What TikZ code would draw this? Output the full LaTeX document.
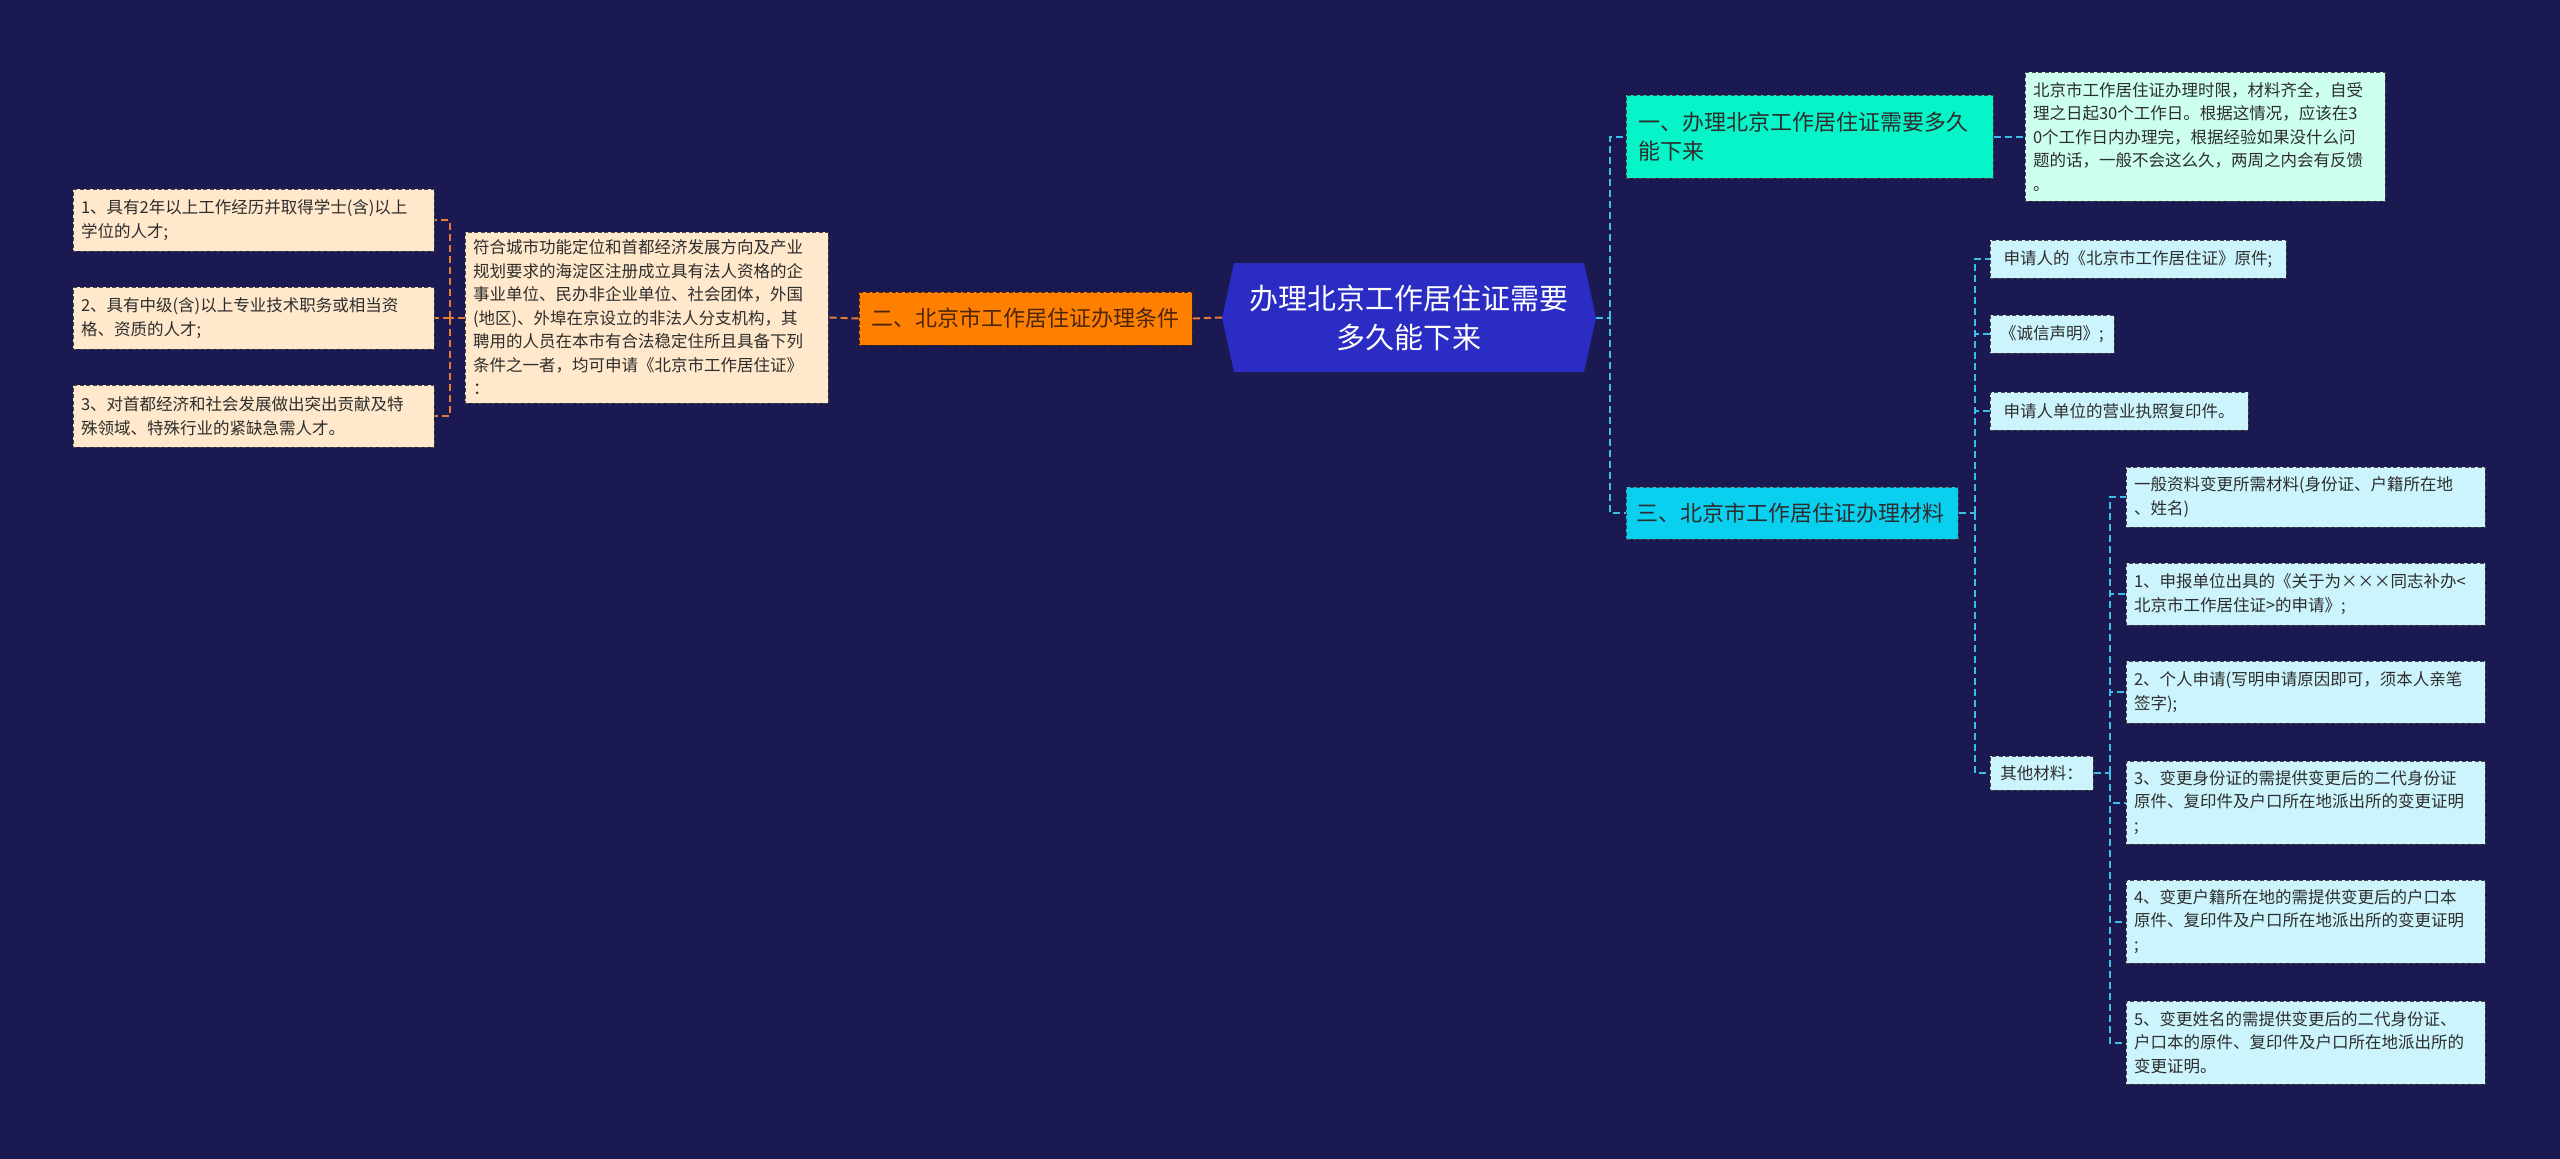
\documentclass[tikz,border=0pt]{standalone}
\usepackage{fontspec}
\setmainfont{Noto Sans CJK SC}
\definecolor{bgc}{RGB}{26,25,82}
\definecolor{centc}{RGB}{42,44,196}
\definecolor{orangec}{RGB}{255,128,0}
\definecolor{orangetxt}{RGB}{75,38,10}
\definecolor{peachc}{RGB}{255,232,204}
\definecolor{greenc}{RGB}{5,245,200}
\definecolor{mintc}{RGB}{204,255,240}
\definecolor{cyanc}{RGB}{10,208,240}
\definecolor{lcyanc}{RGB}{204,244,252}
\definecolor{lconnc}{RGB}{230,125,50}
\definecolor{rconnc}{RGB}{60,190,230}
\definecolor{txtc}{RGB}{45,45,45}
\definecolor{borderc}{RGB}{70,70,70}
\newcommand{\smallfnt}{\fontsize{16.5}{23.5}\selectfont}
\newcommand{\midfnt}{\fontsize{22}{29}\selectfont}
\newcommand{\bigfnt}{\fontsize{29}{39}\selectfont}
\begin{document}
\begin{tikzpicture}[x=1pt,y=-1pt,
  box/.style={draw=borderc, dash pattern=on 4pt off 2.5pt, line width=1pt,
    align=left, inner xsep=8pt, inner ysep=0pt, font=\smallfnt, text=txtc},
  onebox/.style={box, align=center, inner xsep=6pt},
  midbox/.style={box, font=\midfnt, inner xsep=12pt},
  lconn/.style={draw=lconnc, line width=2pt, dash pattern=on 7pt off 4pt},
  rconn/.style={draw=rconnc, line width=2pt, dash pattern=on 7pt off 4pt}]
\fill[bgc] (0,0) rectangle (2560,1159);
\useasboundingbox (0,0) rectangle (2560,1159);

% central hexagon
\fill[centc] (1222,318) -- (1234,263) -- (1584,263) -- (1596,318) -- (1584,372) -- (1234,372) -- cycle;
\node[minimum width=374pt, minimum height=109pt, inner sep=0pt, align=center,
  font=\bigfnt, text=white] (c) at (1409,317.5) {办理北京工作居住证需要\\多久能下来};

% left branch
\node[box, fill=orangec, draw=orangetxt, font=\midfnt, text=orangetxt, align=center,
  text width=317pt, minimum height=53pt] (o) at (1025.5,318.5) {二、北京市工作居住证办理条件};
\node[box, fill=peachc, text width=347pt, minimum height=171pt] (desc) at (646.5,317.5)
  {符合城市功能定位和首都经济发展方向及产业\\规划要求的海淀区注册成立具有法人资格的企\\事业单位、民办非企业单位、社会团体，外国\\(地区)、外埠在京设立的非法人分支机构，其\\聘用的人员在本市有合法稳定住所且具备下列\\条件之一者，均可申请《北京市工作居住证》\\：};
\node[box, fill=peachc, text width=345pt, minimum height=62pt] (i1) at (253.5,220)
  {1、具有2年以上工作经历并取得学士(含)以上\\学位的人才;};
\node[box, fill=peachc, text width=345pt, minimum height=62pt] (i2) at (253.5,318)
  {2、具有中级(含)以上专业技术职务或相当资\\格、资质的人才;};
\node[box, fill=peachc, text width=345pt, minimum height=62pt] (i3) at (253.5,416)
  {3、对首都经济和社会发展做出突出贡献及特\\殊领域、特殊行业的紧缺急需人才。};

% right branch 1
\node[midbox, fill=greenc, text width=343pt, minimum height=83pt] (n1) at (1809.5,136.5)
  {一、办理北京工作居住证需要多久\\能下来};
\node[box, fill=mintc, text width=344pt, minimum height=129pt] (n1d) at (2205,136.5)
  {北京市工作居住证办理时限，材料齐全，自受\\理之日起30个工作日。根据这情况，应该在3\\0个工作日内办理完，根据经验如果没什么问\\题的话，一般不会这么久，两周之内会有反馈\\。};

% right branch 3
\node[midbox, fill=cyanc, inner xsep=10pt, text width=312pt, minimum height=52pt] (n3) at (1792,513)
  {三、北京市工作居住证办理材料};
\node[onebox, fill=lcyanc, minimum width=296pt, minimum height=38pt] (r1) at (2138,259)
  {申请人的《北京市工作居住证》原件;};
\node[onebox, fill=lcyanc, minimum width=124pt, minimum height=38pt] (r2) at (2052,334)
  {《诚信声明》;};
\node[onebox, fill=lcyanc, minimum width=258pt, minimum height=38pt] (r3) at (2119,411)
  {申请人单位的营业执照复印件。};
\node[onebox, fill=lcyanc, minimum width=103pt, minimum height=34pt] (oth) at (2041.5,773)
  {其他材料：};

\node[box, fill=lcyanc, text width=343pt, minimum height=60pt] (s0) at (2305.5,497)
  {一般资料变更所需材料(身份证、户籍所在地\\、姓名)};
\node[box, fill=lcyanc, text width=343pt, minimum height=62pt] (s1) at (2305.5,594)
  {1、申报单位出具的《关于为×××同志补办<\\北京市工作居住证>的申请》;};
\node[box, fill=lcyanc, text width=343pt, minimum height=62pt] (s2) at (2305.5,692)
  {2、个人申请(写明申请原因即可，须本人亲笔\\签字);};
\node[box, fill=lcyanc, text width=343pt, minimum height=83pt] (s3) at (2305.5,802.5)
  {3、变更身份证的需提供变更后的二代身份证\\原件、复印件及户口所在地派出所的变更证明\\;};
\node[box, fill=lcyanc, text width=343pt, minimum height=83pt] (s4) at (2305.5,921.5)
  {4、变更户籍所在地的需提供变更后的户口本\\原件、复印件及户口所在地派出所的变更证明\\;};
\node[box, fill=lcyanc, text width=343pt, minimum height=83pt] (s5) at (2305.5,1042.5)
  {5、变更姓名的需提供变更后的二代身份证、\\户口本的原件、复印件及户口所在地派出所的\\变更证明。};

% left connectors
\draw[lconn] (c.west) -- (o.east);
\draw[lconn] (o.west) -- (desc.east);
\draw[lconn] (desc.west) -- ++(-15,0) coordinate (lb);
\draw[lconn] (lb) |- (i1.east);
\draw[lconn] (lb) |- (i2.east);
\draw[lconn] (lb) |- (i3.east);

% right connectors
\draw[rconn] (c.east) -- ++(14,0) coordinate (rb);
\draw[rconn] (rb) |- (n1.west);
\draw[rconn] (rb) |- (n3.west);
\draw[rconn] (n1.east) -- (n1d.west);
\draw[rconn] (n3.east) -- ++(16,0) coordinate (b3);
\draw[rconn] (b3) |- (r1.west);
\draw[rconn] (b3) |- (r2.west);
\draw[rconn] (b3) |- (r3.west);
\draw[rconn] (b3) |- (oth.west);
\draw[rconn] (oth.east) -- ++(16,0) coordinate (b4);
\draw[rconn] (b4) |- (s0.west);
\draw[rconn] (b4) |- (s1.west);
\draw[rconn] (b4) |- (s2.west);
\draw[rconn] (b4) |- (s3.west);
\draw[rconn] (b4) |- (s4.west);
\draw[rconn] (b4) |- (s5.west);
\end{tikzpicture}
\end{document}
